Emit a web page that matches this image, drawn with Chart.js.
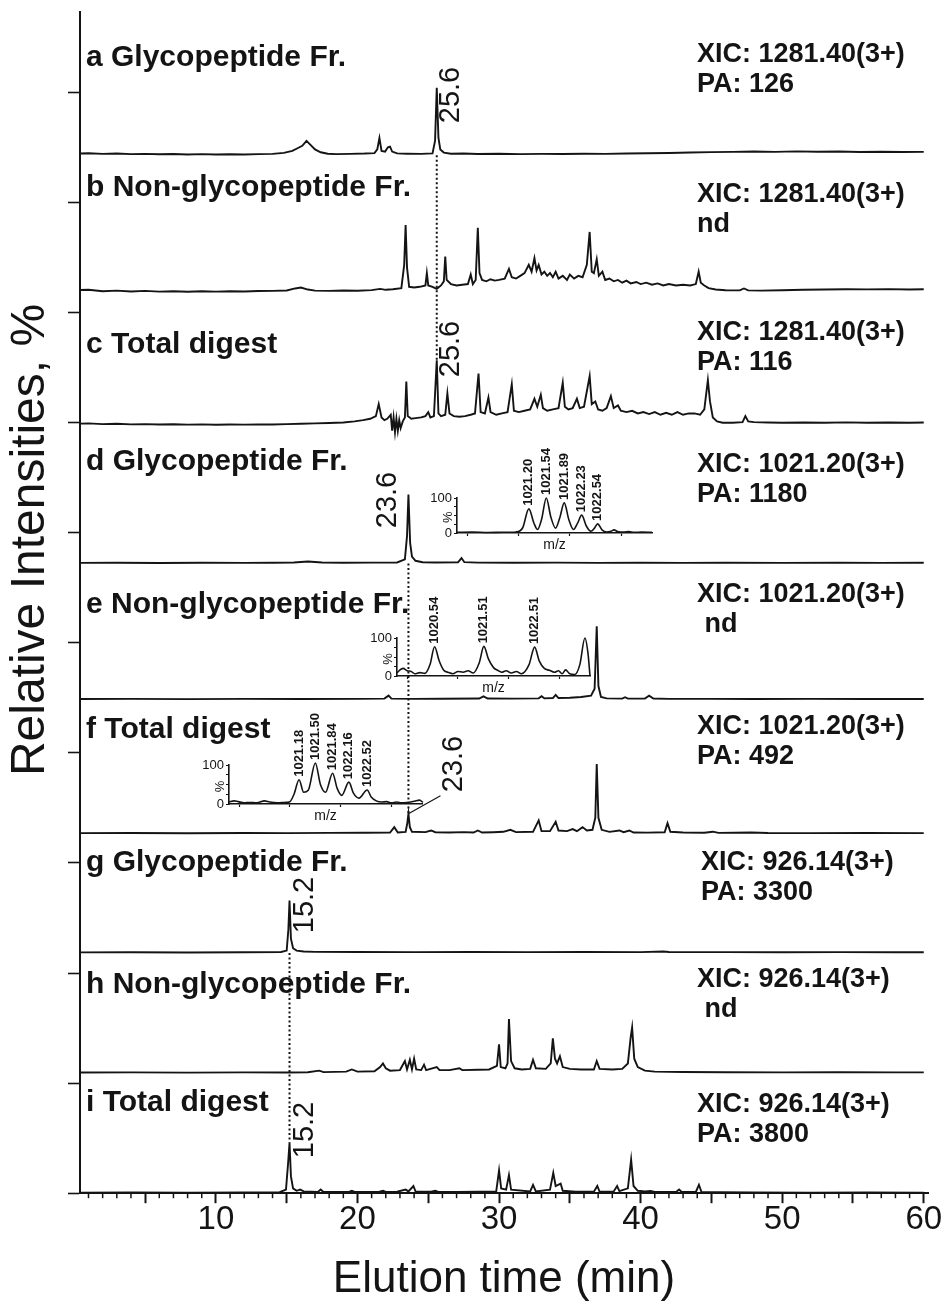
<!DOCTYPE html>
<html>
<head>
<meta charset="utf-8">
<title>XIC chromatograms</title>
<script src="https://cdn.jsdelivr.net/npm/chart.js@4.4.1/dist/chart.umd.min.js"></script>
<style>
  html, body { margin: 0; padding: 0; background: #fff; }
  #fig { position: relative; width: 944px; height: 1311px; }
  #fig canvas { position: absolute; left: 0; top: 0; }
</style>
</head>
<body>
<div id="fig">
  <canvas id="main" width="944" height="1311"></canvas>
  <canvas id="insetD" width="944" height="1311"></canvas>
  <canvas id="insetE" width="944" height="1311"></canvas>
  <canvas id="insetF" width="944" height="1311"></canvas>
</div>
<script>
Chart.defaults.font.family = '"Liberation Sans", Arial, sans-serif';
Chart.defaults.color = '#111';
const INK = '#141414';
const SANS = '"Liberation Sans", Arial, sans-serif';

// chromatograms: [elution time (min), intensity (% of panel height)]
const traceA = [[0,1],[1,1.3],[2,0.9],[3,1.1],[4,0.7],[5,0.9],[6,0.6],[7,0.8],[8,0.5],[9,0.7],[10,0.4],[11,0.6],[12,0.5],[13,0.7],[14,0.9],[14.8,1.6],[15.4,3],[15.8,5],[16.1,6.5],[16.4,10],[16.7,7],[17,4],[17.4,2],[17.9,1],[18.5,0.7],[19.5,0.9],[20.5,1.1],[21.2,1.4],[21.4,4],[21.55,12],[21.7,3],[21.95,2.5],[22.15,5.5],[22.3,6],[22.45,2.5],[22.8,1.2],[23.5,1],[24.5,0.9],[25.3,1.2],[25.48,10],[25.6,47],[25.72,12],[25.85,4],[26.1,1.8],[26.6,1],[27.5,1.1],[28.5,0.8],[30,1],[31.5,0.7],[33,0.9],[34.5,0.8],[36,1],[37.5,0.9],[39,1.1],[40.5,1.3],[42,1.5],[43.5,1.8],[45,2.1],[46.5,2.3],[48,2.5],[49.5,2.3],[51,2.6],[52.5,2.4],[54,2.5],[55.5,2.2],[57,2.4],[58.5,2.2],[60,2.3]];
const traceB = [[0,1.5],[1,1.8],[2,0.8],[3,1.2],[4,0.6],[5,1],[6,0.5],[7,0.8],[8,0.4],[9,0.7],[10,0.5],[11,0.8],[12,0.6],[13,0.9],[14,1],[15,1.3],[15.6,2.8],[16,3.5],[16.5,2],[17,1.2],[18,1],[19,1.3],[20,1.1],[21,1.6],[21.6,2.5],[22,1.8],[22.5,2.2],[23.1,3],[23.3,20],[23.4,49],[23.5,18],[23.65,4],[24,3.5],[24.4,4],[24.8,5],[24.9,14],[25,5],[25.3,4],[25.6,2.5],[25.9,5],[26.1,8],[26.2,26],[26.3,9],[26.6,6],[27,5],[27.4,5.5],[27.8,6],[28,13],[28.15,6],[28.35,9],[28.5,47],[28.62,14],[28.8,9],[29.1,8],[29.4,9.5],[29.7,8.5],[30,9],[30.4,10],[30.7,17],[30.9,11],[31.2,10],[31.5,12],[31.8,14],[32.1,20],[32.3,15],[32.5,25],[32.65,16],[32.8,20],[33,13],[33.2,15],[33.4,12],[33.6,14],[33.8,11],[34,15],[34.2,10],[34.5,12],[34.8,9],[35,13],[35.3,10],[35.6,12],[35.9,11],[36.2,20],[36.4,44],[36.55,15],[36.7,14],[36.9,24],[37.05,12],[37.3,15],[37.5,9],[37.8,10],[38.1,8],[38.4,9],[38.7,7],[39,8.5],[39.3,6.5],[39.7,7.5],[40,6],[40.4,7],[40.8,5.5],[41.2,6.5],[41.6,5],[42,6],[42.5,5],[43,5.5],[43.5,5],[43.9,6],[44.1,15],[44.25,7],[44.5,5],[44.8,3],[45.3,2],[46,1.5],[47,1.4],[47.3,2.8],[47.6,1.4],[48.5,1.2],[50,1.5],[51.5,1.8],[53,2],[54.5,2.2],[56,2.1],[57.5,2.3],[59,2],[60,2.2]];
const traceC = [[0,1.2],[1,1.5],[2,1],[3,1.2],[4,0.8],[5,1],[6,0.7],[7,0.9],[8,0.6],[9,0.8],[10,0.5],[11,0.7],[12,0.6],[13,0.8],[14,0.7],[15,1],[16,1.3],[17,1.5],[18,1.8],[19,2.2],[19.8,3],[20.4,4],[20.9,5],[21.3,7],[21.5,16],[21.7,6],[21.9,4],[22.1,5],[22.35,8],[22.45,-4],[22.55,6],[22.65,-5],[22.75,5],[22.85,-4],[22.95,4],[23.05,-2],[23.2,3],[23.35,6],[23.45,33],[23.55,7],[23.8,5],[24.1,5.5],[24.5,6],[24.8,7],[25,10],[25.15,6],[25.4,7],[25.6,49],[25.72,9],[25.9,7],[26.2,8],[26.35,24],[26.5,9],[26.8,7],[27.2,6.5],[27.6,7],[28,8],[28.3,9],[28.55,39],[28.7,10],[29,9],[29.25,21],[29.4,10],[29.8,8],[30.2,9],[30.6,10],[30.9,31],[31.05,11],[31.4,10],[31.8,11],[32.2,12],[32.5,20],[32.7,14],[32.95,23],[33.1,13],[33.4,11],[33.8,12],[34.2,13],[34.5,32],[34.65,14],[34.9,12],[35.2,13],[35.5,20],[35.7,13],[36,14],[36.4,37],[36.55,16],[36.8,18],[37,12],[37.3,11],[37.6,13],[37.9,22],[38.1,13],[38.4,15],[38.6,11],[39,10],[39.4,11],[39.8,9],[40.2,10],[40.6,8.5],[41,10],[41.4,8],[41.8,9.5],[42.2,8],[42.6,10],[43,8],[43.4,9],[43.8,9],[44.2,8],[44.5,12],[44.75,34],[44.9,18],[45.1,6],[45.4,3],[45.8,2],[46.5,2],[47.2,2.5],[47.4,7],[47.6,3],[48,2.5],[49,2.2],[50,2],[51.5,2.2],[53,2],[54.5,2.3],[56,2],[57.5,2.2],[59,2],[60,2.2]];
const traceD = [[0,0.5],[3,0.6],[6,0.4],[9,0.6],[12,0.5],[14,0.6],[15.5,0.8],[16.5,1.5],[17.5,0.8],[19,0.6],[21,0.7],[22.8,0.8],[23.35,3],[23.5,20],[23.6,50],[23.72,15],[23.85,5],[24.1,2],[24.6,1],[25.5,0.8],[27.1,0.9],[27.35,4],[27.55,1],[28.5,0.7],[31,0.6],[34,0.7],[37,0.5],[40,0.6],[43,0.5],[46,0.6],[50,0.5],[54,0.6],[57,0.5],[60,0.6]];
const traceE = [[0,0.5],[4,0.6],[8,0.4],[12,0.6],[16,0.5],[20,0.6],[21.9,0.8],[22.2,3],[22.4,0.8],[24,0.6],[26,0.7],[28.6,0.9],[28.9,2.5],[29.2,0.9],[31,0.8],[32.8,1],[33,2.5],[33.2,1],[33.8,1.2],[34,3.5],[34.2,1.2],[35,1.4],[35.8,2],[36.5,3],[36.75,8],[36.9,54],[37.02,10],[37.2,2],[37.6,1],[38.7,0.8],[38.9,1.8],[39.1,0.8],[40.3,0.9],[40.6,3],[40.9,0.9],[42,0.6],[45,0.6],[48,0.5],[52,0.6],[56,0.5],[60,0.5]];
const traceF = [[0,0.5],[4,0.6],[8,0.4],[12,0.6],[15,0.5],[18,0.7],[20.5,0.8],[22.3,1],[22.6,5],[22.85,1],[23.4,1.5],[23.52,8],[23.6,15],[23.7,5],[23.85,1.5],[24.8,1.3],[25.2,2.5],[25.5,1.2],[26.5,1],[27.5,1.3],[28.2,1],[28.5,2.5],[28.8,1],[29.6,1.2],[30.3,1.5],[30.8,3],[31.2,1.3],[32.4,1.5],[32.8,10],[33,2],[33.6,2],[34,9],[34.2,2.5],[34.8,2],[35.2,3.5],[35.5,2],[35.9,5],[36.2,2.5],[36.6,3],[36.8,12],[36.9,52],[37.02,12],[37.25,3],[37.8,1.5],[38.5,2.5],[38.8,1.2],[39.2,2.5],[39.5,1],[40.5,0.9],[41.7,1.2],[41.9,8],[42.1,1.5],[43,1],[44.5,0.8],[45.1,1.6],[45.5,0.7],[47.8,1],[49,0.6],[52,0.5],[56,0.6],[60,0.5]];
const traceG = [[0,0.5],[4,0.6],[8,0.4],[12,0.6],[14.6,0.8],[15,2],[15.12,20],[15.2,44],[15.3,12],[15.45,4],[15.7,2],[16.2,1.2],[17,0.9],[20,0.8],[24,0.7],[28,0.8],[32,0.7],[36,0.8],[40,0.7],[41.6,1.2],[42,0.8],[46,0.7],[50,0.6],[54,0.7],[58,0.6],[60,0.6]];
const traceH = [[0,0.5],[4,0.6],[8,0.4],[12,0.6],[15,0.5],[16.5,0.7],[17.3,2],[17.6,0.8],[19.2,1.2],[19.6,3],[20,1.2],[21.2,1.5],[21.6,5],[21.8,8],[22,4],[22.3,2],[23,2.5],[23.35,10],[23.5,3],[23.7,11],[23.85,3],[24,12],[24.15,3],[24.5,2.5],[24.7,7],[24.85,2.5],[25.6,5],[25.8,2.5],[26.5,2.5],[27.2,4],[27.4,2.5],[28.5,2.8],[29.3,3],[29.85,6],[30,24],[30.12,5],[30.45,4],[30.6,8],[30.7,45],[30.85,10],[31.1,4],[31.6,3],[32.2,3.5],[32.4,11],[32.6,4],[33.3,3.5],[33.65,8],[33.8,29],[33.95,12],[34.1,8],[34.3,14],[34.5,5],[35,3.5],[35.8,3],[36.7,3],[36.9,10],[37.1,3.5],[38,3],[38.7,3.5],[39.1,8],[39.3,30],[39.4,38],[39.55,12],[39.8,5],[40.3,2],[41,1.2],[43,0.9],[46,0.7],[50,0.6],[54,0.7],[58,0.6],[60,0.6]];
const traceI = [[0,0.5],[4,0.6],[8,0.5],[12,0.6],[14.5,0.8],[14.95,3],[15.1,25],[15.2,42],[15.3,14],[15.45,4],[15.7,2],[15.95,3],[16.2,1.5],[17.2,1],[17.4,3],[17.6,1],[19.4,1],[19.6,2],[19.8,1],[21.5,1],[21.8,2],[22,1],[22.8,1.2],[23.4,3],[23.6,1.5],[23.95,6],[24.1,1.5],[25.2,1.2],[25.5,2],[25.7,1],[27,1.1],[28.5,1.2],[29.8,1.5],[29.92,12],[30,19],[30.15,4],[30.5,3],[30.7,15],[30.85,3],[32.2,1.5],[32.4,7],[32.6,1.5],[33.6,3],[33.83,17],[34,6],[34.35,8],[34.5,2],[35.4,1.2],[36.7,1.3],[36.94,6],[37.1,1.3],[38.1,1.5],[38.34,6],[38.5,1.8],[39.1,4],[39.33,28],[39.5,6],[39.8,2],[40.3,1.5],[40.7,1.8],[41,1],[42.5,1],[42.72,3],[42.9,1],[43.9,1],[44.12,7],[44.3,1],[45.5,0.9],[48,0.6],[52,0.5],[56,0.6],[60,0.5]];

const panelTraces = [traceA, traceB, traceC, traceD, traceE, traceF, traceG, traceH, traceI];
const panelNames = ['a Glycopeptide Fr.', 'b Non-glycopeptide Fr.', 'c Total digest', 'd Glycopeptide Fr.',
  'e Non-glycopeptide Fr.', 'f Total digest', 'g Glycopeptide Fr.', 'h Non-glycopeptide Fr.', 'i Total digest'];
const xicLines = [
  ['XIC: 1281.40(3+)', 'PA: 126'], ['XIC: 1281.40(3+)', 'nd'], ['XIC: 1281.40(3+)', 'PA: 116'],
  ['XIC: 1021.20(3+)', 'PA: 1180'], ['XIC: 1021.20(3+)', ' nd'], ['XIC: 1021.20(3+)', 'PA: 492'],
  ['XIC: 926.14(3+)', 'PA: 3300'], ['XIC: 926.14(3+)', ' nd'], ['XIC: 926.14(3+)', 'PA: 3800']
];
const xTicks = [5, 10, 15, 20, 25, 30, 35, 40, 45, 50, 55, 60];
const frameTicks = [0, 1, 2, 3, 4, 5, 6, 7, 8, 9, 10];

// retention times followed through the fractions: [time, first panel, last panel]
const guideTimes = [25.6, 23.6, 15.2];
const guidePanels = [[0, 2], [3, 5], [6, 8]];
// labelled peaks: [panel, time]
const labelledPeaks = [[0, 25.6], [2, 25.6], [3, 23.6], [5, 23.6], [6, 15.2], [8, 15.2]];

// MS insets: [m/z, relative intensity %]
const specD = [[1019.8,2],[1020.1,2.5],[1020.4,1.5],[1020.7,2],[1020.95,3],[1021.08,15],[1021.2,69],[1021.3,28],[1021.37,10],[1021.45,40],[1021.54,100],[1021.63,45],[1021.72,14],[1021.8,42],[1021.89,86],[1021.98,38],[1022.07,10],[1022.15,28],[1022.23,51],[1022.32,20],[1022.41,5],[1022.48,14],[1022.54,26],[1022.63,8],[1022.72,3],[1022.8,5],[1022.86,9],[1022.93,4],[1023.05,2.5],[1023.15,4],[1023.25,2],[1023.4,2.5],[1023.6,2]];
const specE = [[1019.8,8],[1019.85,15],[1019.92,20],[1020,14],[1020.08,12],[1020.15,6],[1020.25,9],[1020.35,7],[1020.45,30],[1020.54,77],[1020.63,40],[1020.72,15],[1020.8,10],[1020.9,6],[1021,12],[1021.1,10],[1021.2,14],[1021.3,8],[1021.42,35],[1021.51,78],[1021.6,45],[1021.7,22],[1021.78,15],[1021.86,10],[1021.95,14],[1022.05,8],[1022.15,12],[1022.25,6],[1022.4,30],[1022.51,76],[1022.6,40],[1022.7,20],[1022.8,15],[1022.9,10],[1022.98,14],[1023.05,6],[1023.12,16],[1023.2,6],[1023.3,4],[1023.4,30],[1023.5,100],[1023.56,60],[1023.6,0]];
const specF = [[1019.8,5],[1019.9,8],[1019.98,6],[1020.1,3],[1020.2,4],[1020.35,3],[1020.5,8],[1020.6,5],[1020.75,3],[1020.9,4],[1021,6],[1021.08,25],[1021.18,62],[1021.27,30],[1021.36,35],[1021.5,105],[1021.6,50],[1021.7,30],[1021.84,79],[1021.93,40],[1022.02,22],[1022.16,56],[1022.25,28],[1022.36,15],[1022.52,36],[1022.6,18],[1022.7,8],[1022.8,5],[1022.9,6],[1023,3],[1023.1,5],[1023.2,3],[1023.3,4],[1023.45,7],[1023.55,10],[1023.62,4]];
const peaksD = ['1021.20', '1021.54', '1021.89', '1022.23', '1022.54'];
const peaksE = ['1020.54', '1021.51', '1022.51'];
const peaksF = ['1021.18', '1021.50', '1021.84', '1022.16', '1022.52'];
const mzTicks = [1020, 1021, 1022, 1023];

// ---- layout of the stacked panels and annotations (pixels) ----
const panelIds = ['pa', 'pb', 'pc', 'pd', 'pe', 'pf', 'pg', 'ph', 'pi'];
const panelHeights = [143, 137, 133, 138, 136, 134, 119, 120, 120];
const nameY = [58, 188, 345, 462, 605, 730, 863, 985, 1103];
const xicY = [55, 195, 333, 465, 595, 727, 863, 980, 1105];
const xicX = [697, 697, 697, 697, 697, 697, 701, 697, 697];
const peakLabelAt = [[14, 95], [14, 349], [-20, 500], [46, 764], [15, 905], [15, 1130]];

function valueAt(trace, t) {
  let best = trace[0];
  trace.forEach(p => { if (Math.abs(p[0] - t) < Math.abs(best[0] - t)) best = p; });
  return best[1];
}

const figureText = {
  id: 'figureText',
  afterDraw(chart) {
    const {ctx, scales, chartArea} = chart;
    const xs = scales.x;
    ctx.save();
    ctx.strokeStyle = INK;
    ctx.fillStyle = INK;

    // minor ticks every minute
    ctx.lineWidth = 1.5;
    for (let t = 1; t <= 60; t++) {
      if (t % 5 === 0) continue;
      const px = xs.getPixelForValue(t);
      ctx.beginPath();
      ctx.moveTo(px, chartArea.bottom);
      ctx.lineTo(px, chartArea.bottom + 5);
      ctx.stroke();
    }

    // dotted guides from the fraction baseline down to the total digest peak
    ctx.lineWidth = 2;
    ctx.setLineDash([2, 2.5]);
    guideTimes.forEach((t, k) => {
      const [p0, p1] = guidePanels[k];
      const px = xs.getPixelForValue(t);
      const y0 = scales[panelIds[p0]].getPixelForValue(0);
      const y1 = scales[panelIds[p1]].getPixelForValue(valueAt(panelTraces[p1], t));
      ctx.beginPath();
      ctx.moveTo(px, y0);
      ctx.lineTo(px, y1);
      ctx.stroke();
    });
    ctx.setLineDash([]);

    // panel titles and XIC info
    ctx.textBaseline = 'middle';
    ctx.textAlign = 'left';
    ctx.font = 'bold 30px ' + SANS;
    panelNames.forEach((name, k) => ctx.fillText(name, 86, nameY[k]));
    ctx.font = 'bold 27px ' + SANS;
    xicLines.forEach((lines, k) => {
      ctx.fillText(lines[0], xicX[k], xicY[k]);
      ctx.fillText(lines[1], xicX[k], xicY[k] + 30);
    });

    // retention time labels
    ctx.font = '29px ' + SANS;
    labelledPeaks.forEach(([p, t], k) => {
      const px = xs.getPixelForValue(t);
      const [dx, cy] = peakLabelAt[k];
      if (dx > 40) {
        const py = scales[panelIds[p]].getPixelForValue(valueAt(panelTraces[p], t));
        ctx.lineWidth = 1.2;
        ctx.beginPath();
        ctx.moveTo(px, py);
        ctx.lineTo(px + 32, py - 18);
        ctx.stroke();
      }
      ctx.save();
      ctx.translate(px + dx, cy);
      ctx.rotate(-Math.PI / 2);
      ctx.textAlign = 'center';
      ctx.fillText(t.toFixed(1), 0, 0);
      ctx.restore();
    });

    // y axis title
    ctx.save();
    ctx.translate(31, 540);
    ctx.rotate(-Math.PI / 2);
    ctx.textAlign = 'center';
    ctx.font = '48px ' + SANS;
    ctx.fillText('Relative Intensities, %', 0, 0);
    ctx.restore();
    ctx.restore();
  }
};

const scales = {
  x: {
    type: 'linear', position: 'bottom', min: 0.4, max: 60.3,
    afterBuildTicks: ax => { ax.ticks = xTicks.map(v => ({value: v})); },
    afterFit: sc => { sc.paddingRight = 0; },
    ticks: {
      autoSkip: false, maxRotation: 0, padding: 0, color: INK, font: {size: 33, lineHeight: 1},
      callback: v => (v % 10 === 0) ? String(v) : ''
    },
    grid: {drawOnChartArea: false, tickLength: 10, tickWidth: 2, tickColor: INK},
    border: {color: INK, width: 2},
    title: {display: true, text: 'Elution time (min)', color: INK, font: {size: 44}, padding: {top: 17, bottom: 5}}
  },
  yf: {
    type: 'linear', position: 'left', weight: 0, min: 0, max: 10.73,
    afterBuildTicks: ax => { ax.ticks = frameTicks.map(v => ({value: v})); },
    ticks: {display: false},
    grid: {drawOnChartArea: false, tickLength: 12, tickWidth: 1.6, tickColor: INK},
    border: {color: INK, width: 2}
  }
};
panelIds.forEach((id, k) => {
  scales[id] = {
    type: 'linear', position: 'left', display: false,
    stack: 'panels', stackWeight: panelHeights[k], weight: 9 - k,
    min: 0, max: 100
  };
});

new Chart(document.getElementById('main'), {
  type: 'line',
  data: {
    datasets: panelTraces.map((trace, k) => ({
      data: trace.map(([x, y]) => ({x, y})),
      xAxisID: 'x', yAxisID: panelIds[k],
      borderColor: INK, borderWidth: 1.9, pointRadius: 0, tension: 0,
      clip: {left: 0, right: 0, top: false, bottom: false}
    }))
  },
  options: {
    responsive: false, animation: false, events: [],
    layout: {padding: {left: 68, top: 12, right: 16, bottom: 0}},
    plugins: {legend: {display: false}, tooltip: {enabled: false}},
    scales
  },
  plugins: [figureText]
});

// ---- isotope envelope insets ----
function inset(canvasId, spectrum, peakNames, box) {
  const yW = 28, xH = 21;
  const insetText = {
    id: 'insetText',
    afterDraw(chart) {
      const {ctx, scales: s} = chart;
      ctx.save();
      ctx.fillStyle = INK;
      ctx.font = 'bold 13px ' + SANS;
      ctx.textBaseline = 'middle';
      ctx.textAlign = 'left';
      peakNames.forEach(name => {
        const mz = parseFloat(name);
        let top = 0;
        spectrum.forEach(([m, v]) => { if (Math.abs(m - mz) < 0.05) top = Math.max(top, v); });
        ctx.save();
        ctx.translate(s.x.getPixelForValue(mz), s.y.getPixelForValue(top) - 3);
        ctx.rotate(-Math.PI / 2);
        ctx.fillText(name, 0, 0);
        ctx.restore();
      });
      ctx.save();
      ctx.font = '13px ' + SANS;
      ctx.translate(chart.chartArea.left - 9, s.y.getPixelForValue(45));
      ctx.rotate(-Math.PI / 2);
      ctx.textAlign = 'center';
      ctx.fillText('%', 0, 0);
      ctx.restore();
      ctx.restore();
    }
  };
  new Chart(document.getElementById(canvasId), {
    type: 'line',
    data: {
      datasets: [{
        data: spectrum.map(([x, y]) => ({x, y})),
        borderColor: INK, borderWidth: 1.6, pointRadius: 0,
        cubicInterpolationMode: 'monotone', clip: false
      }]
    },
    options: {
      responsive: false, animation: false, events: [],
      layout: {padding: {left: box.x - yW, top: box.y, right: 944 - box.x - box.w, bottom: 1311 - box.y - box.h - xH}},
      plugins: {legend: {display: false}, tooltip: {enabled: false}},
      scales: {
        x: {
          type: 'linear', min: 1019.8, max: 1023.6,
          afterBuildTicks: ax => { ax.ticks = mzTicks.map(v => ({value: v})); },
          afterFit: sc => { sc.height = xH; },
          ticks: {display: false},
          grid: {drawOnChartArea: false, tickLength: 3, tickColor: INK, tickWidth: 1.2},
          border: {color: INK, width: 1.6},
          title: {display: true, text: 'm/z', color: INK, font: {size: 14}, padding: {top: 2, bottom: 0}}
        },
        y: {
          type: 'linear', min: 0, max: 100,
          afterBuildTicks: ax => { ax.ticks = [0, 25, 50, 75, 100].map(v => ({value: v})); },
          afterFit: sc => { sc.width = yW; },
          ticks: {autoSkip: false, padding: 2, color: INK, font: {size: 13}, callback: v => (v === 0 || v === 100) ? String(v) : ''},
          grid: {drawOnChartArea: false, tickLength: 3, tickColor: INK, tickWidth: 1.2},
          border: {color: INK, width: 1.6}
        }
      }
    },
    plugins: [insetText]
  });
}

inset('insetD', specD, peaksD, {x: 457, y: 498, w: 195, h: 35});
inset('insetE', specE, peaksE, {x: 397, y: 638, w: 193, h: 38});
inset('insetF', specF, peaksF, {x: 229, y: 765, w: 193, h: 39});
</script>
</body>
</html>
